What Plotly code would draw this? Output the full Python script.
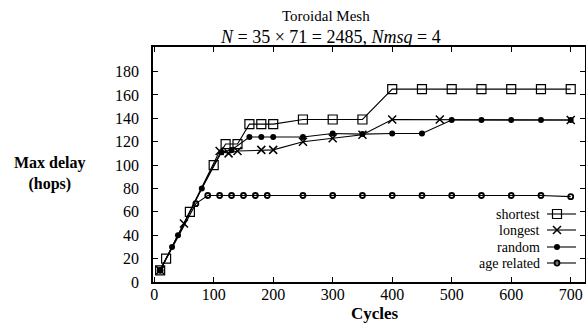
import plotly.graph_objects as go

# ---------------- data ----------------
shortest_x = [10, 20, 60, 100, 120, 140, 160, 180, 200, 250, 300, 350, 400, 450, 500, 550, 600, 650, 700]
shortest_y = [10, 20, 60, 100, 118, 118, 135, 135, 135, 139, 139, 139, 165, 165, 165, 165, 165, 165, 165]

longest_x = [10, 50, 110, 125, 140, 180, 200, 250, 300, 350, 400, 480, 700]
longest_y = [10, 50, 112, 110, 112, 113, 113, 120, 123, 126, 139, 139, 138.5]

random_x = [10, 30, 40, 80, 113, 130, 160, 180, 200, 250, 300, 350, 400, 450, 500, 550, 600, 650, 700]
random_y = [10, 30, 40, 80, 111, 113, 124, 124, 124, 124, 127, 126.5, 127, 127, 138.5, 138.5, 138.5, 138.5, 138.5]

age_x = [10, 70, 90, 110, 130, 150, 170, 190, 250, 300, 350, 400, 450, 500, 550, 600, 650, 700]
age_y = [10, 67, 74, 74, 74, 74, 74, 74, 74, 74, 74, 74, 74, 74, 74, 74, 74, 73]

series_names = ["shortest", "longest", "random", "age related"]
x_ticks = [0, 100, 200, 300, 400, 500, 600, 700]
y_ticks = [0, 20, 40, 60, 80, 100, 120, 140, 160, 180]

# ---------------- style ----------------
FONT = "'Liberation Serif', 'DejaVu Serif', serif"
styles = [
    dict(symbol="square-open", size=9, color="black", line=dict(color="black", width=1.2)),
    dict(symbol="x-thin-open", size=8, color="black", line=dict(color="black", width=1.5)),
    dict(symbol="circle", size=6, color="black", line=dict(color="black", width=0)),
    dict(symbol="circle-open", size=5, color="black", line=dict(color="black", width=1.8)),
]
data = [(shortest_x, shortest_y), (longest_x, longest_y), (random_x, random_y), (age_x, age_y)]

fig = go.Figure()
for (xs, ys), name, st in zip(data, series_names, styles):
    fig.add_trace(go.Scatter(
        x=xs, y=ys, name=name, mode="lines+markers",
        line=dict(color="black", width=1.1),
        marker=st, showlegend=False, cliponaxis=False,
    ))

# custom legend (text left, sample right), in pixel-like helper axes
L, R, T, B = 153, 585, 47, 282
leg_rows = [214, 230, 247, 263]
for name, st, yy in zip(series_names, styles, leg_rows):
    fig.add_trace(go.Scatter(x=[547, 576], y=[yy, yy], mode="lines",
                             line=dict(color="black", width=1.1),
                             xaxis="x2", yaxis="y2", showlegend=False, hoverinfo="skip"))
    fig.add_trace(go.Scatter(x=[557], y=[yy], mode="markers", marker=st,
                             xaxis="x2", yaxis="y2", showlegend=False, hoverinfo="skip"))
    fig.add_annotation(x=542, y=yy, xref="x2", yref="y2", text=name, showarrow=False,
                       xanchor="right", yanchor="middle",
                       font=dict(family=FONT, size=14, color="black"))

axis_common = dict(
    showgrid=False, zeroline=False, showline=True, linecolor="black", linewidth=1.6,
    mirror="ticks", ticks="inside", ticklen=5, tickwidth=1.2, tickcolor="black",
    tickfont=dict(family=FONT, size=16, color="black"),
)

fig.update_layout(
    width=586, height=323,
    margin=dict(l=L, r=586 - R, t=T, b=323 - B, autoexpand=False),
    paper_bgcolor="white", plot_bgcolor="white",
    font=dict(family=FONT, color="black"),
    xaxis=dict(range=[-2, 724], tickvals=x_ticks, ticklabelstandoff=-3, **axis_common),
    yaxis=dict(range=[0, 201], tickvals=y_ticks, ticklabelstandoff=9, **axis_common),
    xaxis2=dict(range=[L, R], overlaying="x", visible=False, anchor="y2"),
    yaxis2=dict(range=[B, T], overlaying="y", visible=False, anchor="x2"),
    showlegend=False,
)

# titles
fig.add_annotation(x=326, y=16, xref="paper", yref="paper", text="Toroidal Mesh",
                   showarrow=False, font=dict(family=FONT, size=15, color="black"))
fig.add_annotation(text="<i>N</i> = 35 × 71 = 2485, <i>Nmsq</i> = 4", showarrow=False,
                   x=330, y=37, xref="paper", yref="paper",
                   font=dict(family=FONT, size=18, color="black"))
fig.add_annotation(text="<b>Max delay</b><br><b>(hops)</b>", showarrow=False,
                   x=50, y=173, xref="paper", yref="paper",
                   font=dict(family=FONT, size=16, color="black"))
fig.add_annotation(text="<b>Cycles</b>", showarrow=False,
                   x=375, y=313, xref="paper", yref="paper",
                   font=dict(family=FONT, size=17, color="black"))

# convert pixel positions of annotations with paper refs
for a in fig.layout.annotations:
    if a.xref == "paper":
        a.x = (a.x - L) / (R - L)
        a.y = (B - a.y) / (B - T)
        a.xanchor = "center"
        a.yanchor = "middle"

fig.write_html("out.html", config={"displayModeBar": False},
               post_script="document.body.style.margin='0';document.body.style.overflow='hidden';")
